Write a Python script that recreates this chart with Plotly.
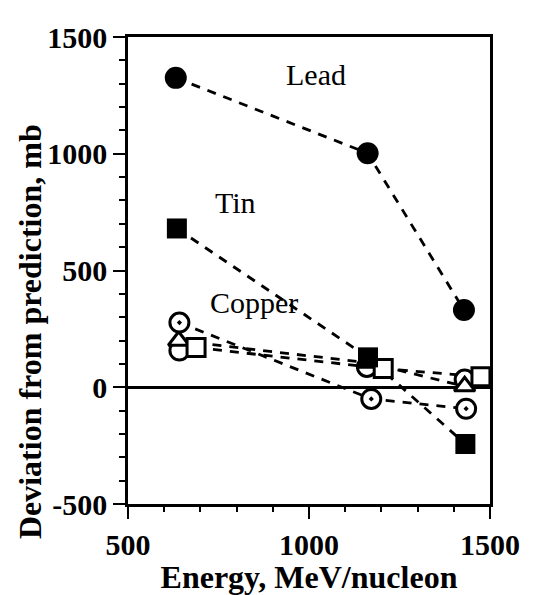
import plotly.graph_objects as go

# Lead (filled circles)
lead_x = [632, 1162, 1428]
lead_y = [1325, 1002, 331]
# Tin (filled squares)
tin_x = [635, 1163, 1432]
tin_y = [680, 128, -243]
# Copper, dotted circles
cu_dot_x = [642, 1172, 1434]
cu_dot_y = [277, -50, -92]
# Copper, triangles
cu_tri_x = [640, 1163, 1430]
cu_tri_y = [199, 105, 4]
# Copper, plain circles
cu_circ_x = [642, 1160, 1430]
cu_circ_y = [157, 87, 33]
# Copper, open squares
cu_sq_x = [688, 1205, 1475]
cu_sq_y = [170, 80, 45]

labels = ["Lead", "Tin", "Copper"]
label_x = [1019, 796, 848]
label_y = [1340, 793, 365]

x_ticks = [500, 1000, 1500]
x_tick_text = ["500", "1000", "1500"]
y_ticks = [-500, 0, 500, 1000, 1500]
y_tick_text = ["-500", "0", "500", "1000", "1500"]

dash = "9px,8px"
fig = go.Figure()

for xs, ys in [(lead_x, lead_y), (tin_x, tin_y), (cu_dot_x, cu_dot_y),
               (cu_tri_x, cu_tri_y), (cu_sq_x, cu_sq_y)]:
    fig.add_trace(go.Scatter(x=xs, y=ys, mode="lines",
                             line=dict(color="black", width=2.8, dash=dash),
                             showlegend=False, hoverinfo="skip"))

fig.add_trace(go.Scatter(x=cu_circ_x, y=cu_circ_y, mode="markers",
                         marker=dict(symbol="circle", size=19, color="white",
                                     line=dict(color="black", width=3)),
                         showlegend=False))
fig.add_trace(go.Scatter(x=cu_tri_x, y=cu_tri_y, mode="markers",
                         marker=dict(symbol="triangle-up", size=18, color="white",
                                     line=dict(color="black", width=3)),
                         showlegend=False))
fig.add_trace(go.Scatter(x=cu_sq_x, y=cu_sq_y, mode="markers",
                         marker=dict(symbol="square", size=18, color="white",
                                     line=dict(color="black", width=3)),
                         showlegend=False))
fig.add_trace(go.Scatter(x=cu_dot_x, y=cu_dot_y, mode="markers",
                         marker=dict(symbol="circle-dot", size=19, color="white",
                                     line=dict(color="black", width=3)),
                         showlegend=False))
fig.add_trace(go.Scatter(x=tin_x, y=tin_y, mode="markers",
                         marker=dict(symbol="square", size=20, color="black",
                                     line=dict(color="black", width=0)),
                         showlegend=False))
fig.add_trace(go.Scatter(x=lead_x, y=lead_y, mode="markers",
                         marker=dict(symbol="circle", size=22, color="black",
                                     line=dict(color="black", width=0)),
                         showlegend=False))

for t, x, y in zip(labels, label_x, label_y):
    fig.add_annotation(x=x, y=y, text=t, showarrow=False,
                       font=dict(family="Liberation Serif", size=30, color="black"))

fig.add_annotation(xref="paper", yref="paper", x=-0.271, y=0.37,
                   text="Deviation from prediction, mb", textangle=-90,
                   showarrow=False, xanchor="center", yanchor="middle",
                   font=dict(family="Liberation Serif", size=32, color="black", weight="bold"))

axis_common = dict(
    showline=True, linecolor="black", linewidth=2.5, mirror=True,
    ticks="outside", tickcolor="black", tickwidth=2, ticklen=12,
    showgrid=False,
    tickfont=dict(family="Liberation Serif", size=30, color="black", weight="bold"),
    title_font=dict(family="Liberation Serif", size=32, color="black", weight="bold"),
)

fig.update_xaxes(range=[500, 1500], tickvals=x_ticks, ticktext=x_tick_text, zeroline=False,
                 minor=dict(dtick=100, ticks="outside", ticklen=5, tickwidth=2, tickcolor="black"),
                 title_text="Energy, MeV/nucleon", title_standoff=0, **axis_common)
fig.update_yaxes(range=[-500, 1500], tickvals=y_ticks, ticktext=y_tick_text,
                 zeroline=True, zerolinecolor="black", zerolinewidth=2.5,
                 minor=dict(dtick=100, ticks="outside", ticklen=6, tickwidth=2, tickcolor="black"),
                 **axis_common)

fig.update_layout(width=535, height=587, plot_bgcolor="white", paper_bgcolor="white",
                  margin=dict(l=120, r=53, t=18, b=80), showlegend=False)

fig.write_html("out.html")
